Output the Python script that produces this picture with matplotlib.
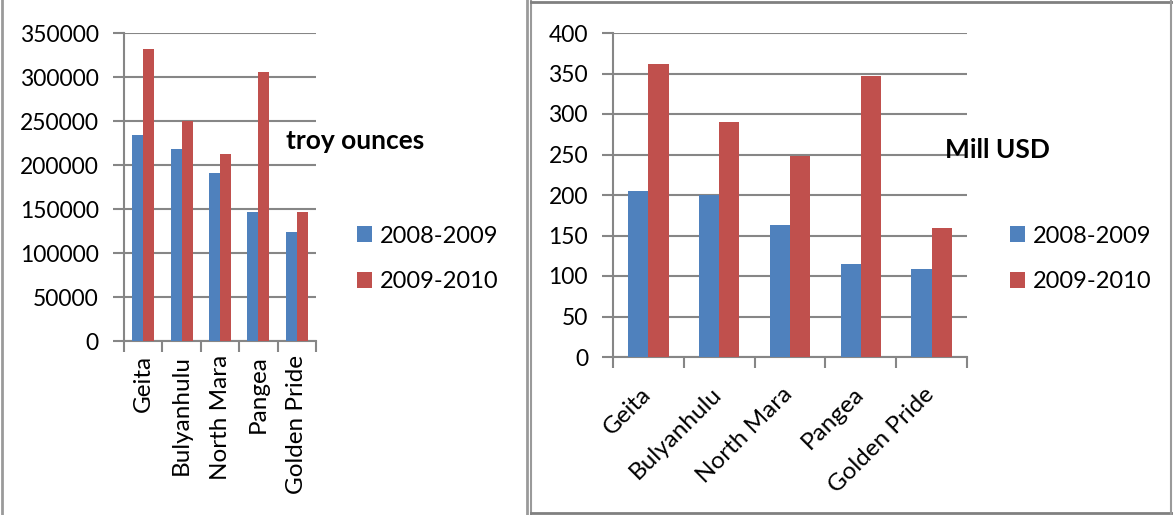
import numpy as np
import matplotlib.pyplot as plt
from matplotlib.lines import Line2D
from matplotlib.ticker import MultipleLocator, FixedLocator
from matplotlib.transforms import ScaledTranslation

# Data
mines = ['Geita', 'Bulyanhulu', 'North Mara', 'Pangea', 'Golden Pride']
series = ['2008-2009', '2009-2010']
ounces_0809 = [234000, 218000, 191000, 146500, 124000]
ounces_0910 = [332000, 250000, 213000, 306000, 146500]
usd_0809 = [205, 200, 163, 115, 109]
usd_0910 = [362, 290, 248, 347, 159]

blue = '#4F81BD'
red = '#C0504D'
grid_c = '#868686'
W, H = 1173, 515
fs = 16.5
xfs = 17.5

plt.rcParams['font.family'] = ['Lato', 'DejaVu Sans']
fig = plt.figure(figsize=(W / 100, H / 100), dpi=100)


def px_axes(x0, y0, x1, y1):
    # axes from pixel box (top-left origin)
    return fig.add_axes([x0 / W, 1 - y1 / H, (x1 - x0) / W, (y1 - y0) / H])


def draw_chart(ax, a, b, ymax, step, title, title_xy, leg_xy, rot):
    x = np.arange(len(mines))
    w = 0.286
    ax.bar(x - w / 2, a, w, color=blue, label=series[0], zorder=3)
    ax.bar(x + w / 2, b, w, color=red, label=series[1], zorder=3)
    ax.set_xlim(-0.5, len(mines) - 0.5)
    ax.set_ylim(0, ymax)
    ax.yaxis.set_major_locator(MultipleLocator(step))
    ax.grid(axis='y', color=grid_c, lw=1.5, zorder=0)
    for s in ['top', 'right']:
        ax.spines[s].set_visible(False)
    for s in ['left', 'bottom']:
        ax.spines[s].set_color(grid_c)
        ax.spines[s].set_linewidth(1.5)
    ax.tick_params(axis='y', length=8, width=1.5, color=grid_c, labelsize=fs, pad=10)
    ax.set_xticks(x)
    ax.xaxis.set_minor_locator(FixedLocator(np.arange(-0.5, len(mines), 1.0)))
    ax.tick_params(axis='x', which='major', length=0, labelsize=xfs)
    ax.tick_params(axis='x', which='minor', length=8, width=1.5, color=grid_c)
    if rot == 90:
        ax.set_xticklabels(mines, rotation=90, ha='center', va='top')
        ax.tick_params(axis='x', which='major', pad=10)
    else:
        ax.set_xticklabels(mines, rotation=45, ha='right', va='top',
                           rotation_mode='anchor')
        ax.tick_params(axis='x', which='major', pad=19)
        shift = ScaledTranslation(-8 / 100, 0, fig.dpi_scale_trans)
        for lab in ax.get_xticklabels():
            lab.set_transform(lab.get_transform() + shift)
    fig.text(title_xy[0] / W, 1 - title_xy[1] / H, title, fontsize=19,
             fontweight='bold', ha='left', va='center')
    ax.legend(loc='center left', bbox_to_anchor=(leg_xy[0] / W, 1 - leg_xy[1] / H),
              bbox_transform=fig.transFigure, frameon=False, fontsize=17,
              handlelength=0.65, handleheight=0.65, handletextpad=0.3,
              labelspacing=1.05, borderpad=0, borderaxespad=0)


ax1 = px_axes(124, 33, 316, 341)
draw_chart(ax1, ounces_0809, ounces_0910, 350000, 50000, 'troy ounces',
           (286, 141), (357, 259), 90)

ax2 = px_axes(613, 33, 967, 357)
draw_chart(ax2, usd_0809, usd_0910, 400, 50, 'Mill USD',
           (945, 150), (1010, 259), 45)

# panel borders
lc = '#9a9a9a'
fig.add_artist(Line2D([2 / W, 2 / W], [0, 1], color=lc, lw=2))
fig.add_artist(Line2D([527 / W, 527 / W], [0, 1], color=lc, lw=2))
fig.add_artist(Line2D([531 / W, 531 / W], [0, 1], color=lc, lw=1.5))
fig.add_artist(Line2D([531 / W, 1], [1 - 2 / H, 1 - 2 / H], color='#808080', lw=2))
fig.add_artist(Line2D([531 / W, 1], [1 - 513 / H, 1 - 513 / H], color='#808080', lw=2))
fig.add_artist(Line2D([1171 / W, 1171 / W], [0, 1], color=lc, lw=1.5))

fig.savefig('out.png', dpi=100)
